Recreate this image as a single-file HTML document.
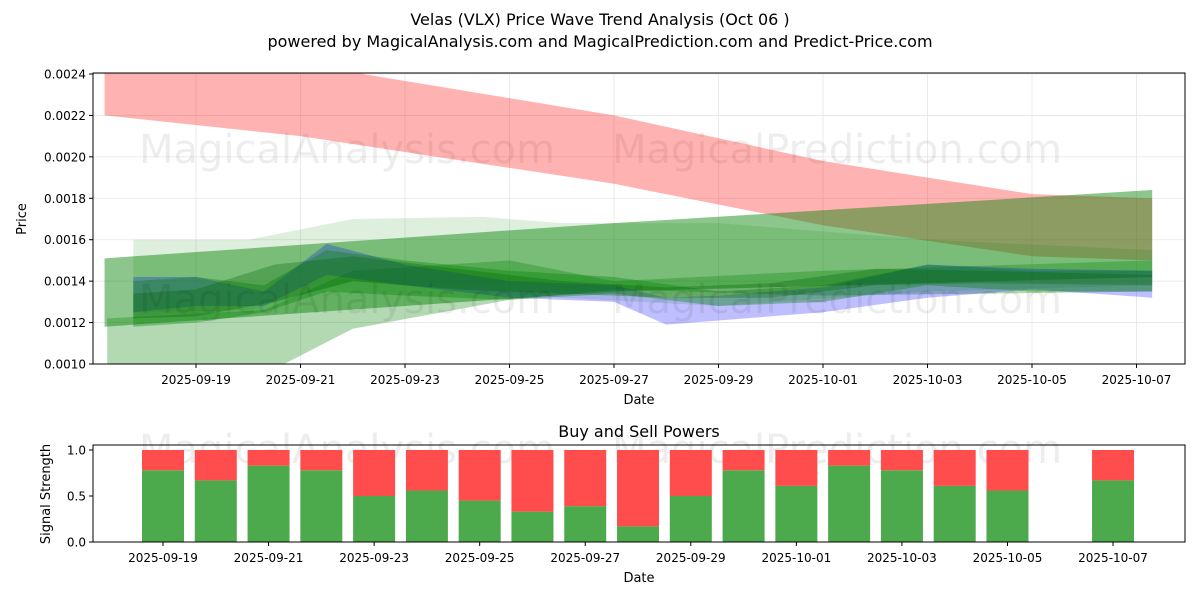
<!DOCTYPE html>
<html><head><meta charset="utf-8"><style>
body{margin:0;background:#fff;font-family:"Liberation Sans","DejaVu Sans",sans-serif}
svg text{font-family:"DejaVu Sans","Liberation Sans",sans-serif}
</style></head><body>
<svg id="c" width="1200" height="600" viewBox="0 0 1200 600">
<text x="600" y="25" text-anchor="middle" font-size="16">Velas (VLX) Price Wave Trend Analysis (Oct 06 )</text>
<text x="600" y="47" text-anchor="middle" font-size="16">powered by MagicalAnalysis.com and MagicalPrediction.com and Predict-Price.com</text>
<g id="topPlot"></g>
<g id="botPlot"></g>
</svg>
<script>
// ---- data ----
const dateLabels=["2025-09-19","2025-09-21","2025-09-23","2025-09-25","2025-09-27","2025-09-29","2025-10-01","2025-10-03","2025-10-05","2025-10-07"];
const priceTicks=[0.0010,0.0012,0.0014,0.0016,0.0018,0.0020,0.0022,0.0024];
const redDays=[-1.75,2,8,12,16,18.3];
const redLow=[0.00220,0.00210,0.00187,0.00167,0.00152,0.00150];
const redHigh=[0.00245,0.00245,0.00220,0.00198,0.00182,0.00180];
const g1Days=[-1.75,8,18.3];
const g1Low=[0.00118,0.00135,0.00142];
const g1High=[0.00151,0.00168,0.00184];
const g2Days=[-1.7,1.3,3,6,8,12,18.3];
const g2Low=[0.00095,0.00095,0.00117,0.00131,0.00136,0.00133,0.00135];
const g2High=[0.00122,0.00126,0.00145,0.00150,0.00140,0.00145,0.00150];
const g3Days=[-1.2,1,3,5.5,7,10,14,18.3];
const g3Low=[0.00125,0.00126,0.00140,0.00135,0.00132,0.00128,0.00135,0.00138];
const g3High=[0.00160,0.00160,0.00170,0.00171,0.00168,0.00168,0.00160,0.00155];
const g4Days=[-1.2,0,1.3,2.5,4,6,8,10,12,14,16,18.3];
const g4Low=[0.00118,0.00120,0.00125,0.00135,0.00133,0.00131,0.00134,0.00128,0.00130,0.00138,0.00135,0.00135];
const g4High=[0.00140,0.00142,0.00138,0.00155,0.00150,0.00145,0.00142,0.00135,0.00138,0.00148,0.00145,0.00145];
const g5Days=[-1.2,0,1.5,3,5,7,9,11,13,15,18.3];
const g5Low=[0.00122,0.00123,0.00130,0.00140,0.00136,0.00134,0.00132,0.00132,0.00138,0.00139,0.00138];
const g5High=[0.00134,0.00136,0.00148,0.00152,0.00146,0.00140,0.00137,0.00139,0.00146,0.00145,0.00143];
const bDays=[-1.2,0,1.3,2.5,4,6,8,9,10,12,14,16,18.3];
const bLow=[0.00125,0.00128,0.00128,0.00143,0.00138,0.00132,0.00130,0.00119,0.00121,0.00125,0.00132,0.00136,0.00132];
const bHigh=[0.00142,0.00142,0.00135,0.00158,0.00148,0.00140,0.00138,0.00132,0.00133,0.00137,0.00148,0.00146,0.00145];
const barDays=[0,1,2,3,4,5,6,7,8,9,10,11,12,13,14,15,16,18];
const buyVals=[0.78,0.67,0.83,0.78,0.5,0.56,0.45,0.33,0.39,0.17,0.5,0.78,0.61,0.83,0.78,0.61,0.56,0.67];
const sellVals=[0.22,0.33,0.17,0.22,0.5,0.44,0.55,0.67,0.61,0.83,0.5,0.22,0.39,0.17,0.22,0.39,0.44,0.33];
const sigTicks=[0,0.5,1.0];
// ---- drawing ----
const NS="http://www.w3.org/2000/svg";
function mk(p,t,a){const e=document.createElementNS(NS,t);for(const k in a)e.setAttribute(k,a[k]);p.appendChild(e);return e;}
const topG=document.getElementById('topPlot'),botG=document.getElementById('botPlot');
const L=93,R=1185,T=73,B=364;
const xS=d=>196+52.25*d;
const yS=v=>364-(v-0.0010)/0.0014*290;
const defs=mk(document.getElementById('c'),'defs',{});
const cp=mk(defs,'clipPath',{id:'clipTop'});mk(cp,'rect',{x:L,y:T,width:R-L,height:B-T});
priceTicks.forEach(v=>{const y=yS(v);
 const g=mk(topG,'line',{x1:L,x2:R,y1:y,y2:y,stroke:'#e6e6e6','stroke-width':0.8});
 
 mk(topG,'line',{x1:L-4,x2:L,y1:y,y2:y,stroke:'#000'});
 const t=mk(topG,'text',{x:L-7,y:y+4.5,'text-anchor':'end','font-size':12});t.textContent=v.toFixed(4);
 });
dateLabels.forEach((s,i)=>{const x=xS(2*i);
 const g=mk(topG,'line',{x1:x,x2:x,y1:T,y2:B,stroke:'#e6e6e6','stroke-width':0.8});
 
 mk(topG,'line',{x1:x,x2:x,y1:B,y2:B+4,stroke:'#000'});
 const t=mk(topG,'text',{x:x,y:B+20,'text-anchor':'middle','font-size':12});t.textContent=s;
 });
const wm1=mk(topG,'text',{x:347,y:163,'text-anchor':'middle','font-size':40,fill:'#000','fill-opacity':0.07});wm1.textContent='MagicalAnalysis.com';

const wm2=mk(topG,'text',{x:837,y:163,'text-anchor':'middle','font-size':40,fill:'#000','fill-opacity':0.07});wm2.textContent='MagicalPrediction.com';

const bandG=mk(topG,'g',{'clip-path':'url(#clipTop)'});
function band(days,lo,hi,col,op,name){
 let pts=days.map((d,i)=>xS(d)+','+yS(hi[i]));
 for(let i=days.length-1;i>=0;i--)pts.push(xS(days[i])+','+yS(lo[i]));
 const p=mk(bandG,'polygon',{points:pts.join(' '),fill:col,'fill-opacity':op});
 }
band(redDays,redLow,redHigh,'#ff0000',0.3,'red-band');
band(g1Days,g1Low,g1High,'#008000',0.45,'green-band-wide');
band(g2Days,g2Low,g2High,'#008000',0.3,'green-band-lower');
band(g3Days,g3Low,g3High,'#008000',0.13,'green-band-upper');
band(bDays,bLow,bHigh,'#0000ff',0.25,'blue-band');
band(g4Days,g4Low,g4High,'#008000',0.35,'green-band-trend');
band(g5Days,g5Low,g5High,'#006400',0.3,'green-band-core');
const wm3=mk(topG,'text',{x:347,y:313,'text-anchor':'middle','font-size':40,fill:'#000','fill-opacity':0.07});wm3.textContent='MagicalAnalysis.com';

const wm4=mk(topG,'text',{x:837,y:313,'text-anchor':'middle','font-size':40,fill:'#000','fill-opacity':0.07});wm4.textContent='MagicalPrediction.com';

mk(topG,'rect',{x:L,y:T,width:R-L,height:B-T,fill:'none',stroke:'#000','stroke-width':1});
const xl=mk(topG,'text',{x:639,y:404,'text-anchor':'middle','font-size':13});xl.textContent='Date';

const yl=mk(topG,'text',{x:0,y:0,'text-anchor':'middle','font-size':13,transform:'translate(26,219) rotate(-90)'});yl.textContent='Price';

// bottom chart
const BL=93,BR=1185,BT=445,BB=542;
const xB=d=>163+52.78*d;
const yB=v=>542-v*92;
const st=mk(botG,'text',{x:639,y:437,'text-anchor':'middle','font-size':16});st.textContent='Buy and Sell Powers';

const wm5=mk(botG,'text',{x:347,y:463,'text-anchor':'middle','font-size':40,fill:'#000','fill-opacity':0.07});wm5.textContent='MagicalAnalysis.com';

const wm6=mk(botG,'text',{x:837,y:463,'text-anchor':'middle','font-size':40,fill:'#000','fill-opacity':0.07});wm6.textContent='MagicalPrediction.com';

barDays.forEach((d,i)=>{const x=xB(d)-21;
 const g=mk(botG,'rect',{x:x,y:yB(buyVals[i]),width:42,height:yB(0)-yB(buyVals[i]),fill:'#4caa4c'});
 
 const r=mk(botG,'rect',{x:x,y:yB(buyVals[i]+sellVals[i]),width:42,height:yB(buyVals[i])-yB(buyVals[i]+sellVals[i]),fill:'#ff4c4c'});
 });
sigTicks.forEach(v=>{const y=yB(v);mk(botG,'line',{x1:BL-4,x2:BL,y1:y,y2:y,stroke:'#000'});
 const t=mk(botG,'text',{x:BL-7,y:y+4.5,'text-anchor':'end','font-size':12});t.textContent=v.toFixed(1);
 });
dateLabels.forEach((s,i)=>{const x=xB(2*i);mk(botG,'line',{x1:x,x2:x,y1:BB,y2:BB+4,stroke:'#000'});
 const t=mk(botG,'text',{x:x,y:BB+20,'text-anchor':'middle','font-size':12});t.textContent=s;
 });
mk(botG,'rect',{x:BL,y:BT,width:BR-BL,height:BB-BT,fill:'none',stroke:'#000','stroke-width':1});
const bx=mk(botG,'text',{x:639,y:582,'text-anchor':'middle','font-size':13});bx.textContent='Date';

const by=mk(botG,'text',{x:0,y:0,'text-anchor':'middle','font-size':13,transform:'translate(50,494) rotate(-90)'});by.textContent='Signal Strength';

</script>
</body></html>
